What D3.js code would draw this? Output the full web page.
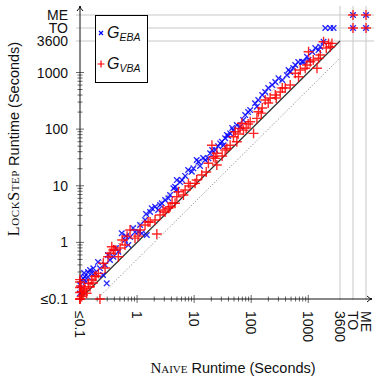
<!DOCTYPE html>
<html><head><meta charset="utf-8">
<script src="https://cdn.jsdelivr.net/npm/d3@7"></script>
<style>body{margin:0;background:#fff}svg{display:block}</style>
</head><body><svg id="c" width="374" height="380"></svg>
<script>
// ---- data (seconds; "TO" = timeout, "ME" = memory exhausted; 0.1 means ≤0.1) ----
const xTicks = [0.1, 1, 10, 100, 1000, 3600, "TO", "ME"];
const xTickLabels = ["≤0.1", "1", "10", "100", "1000", "3600", "TO", "ME"];
const yTicks = [0.1, 1, 10, 100, 1000, 3600, "TO", "ME"];
const yTickLabels = ["≤0.1", "1", "10", "100", "1000", "3600", "TO", "ME"];
const seriesNames = ["EBA", "VBA"];

const ebaNaive = [0.1,0.1,0.107,0.108,0.114,0.122,0.118,0.127,0.138,0.138,0.15,0.16,0.171,0.183,0.207,0.224,0.253,0.275,0.294,0.31,0.336,0.384,0.428,0.47,0.539,0.615,0.641,0.703,0.754,0.85,0.92,1.05,1.13,1.21,1.38,1.44,1.48,1.69,1.81,2.07,2.34,2.53,2.71,3.1,3.54,3.79,4.34,4.64,4.97,4.97,5.68,6.15,6.95,7.85,9.1,9.7,11.1,11.9,12.7,14.4,15.6,17.8,19.1,20.7,23.4,26.4,28.6,30.6,32.7,35,37.5,39.5,42.8,46.4,48.3,56,64,72.4,78.5,88.5,96,117,126,133,156,176,199,233,264,301,350,423,451,483,546,592,668,775,828,949,1012,1175,1327,1517,1625,1855,1990,2430,2780,"TO","TO","ME","ME"];
const ebaLock  = [0.126,0.177,0.135,0.217,0.232,0.248,0.288,0.2,0.245,0.3,0.325,0.284,0.348,0.288,0.45,0.348,0.265,0.398,0.189,0.598,0.488,0.558,0.795,0.684,1.45,1.1,1.29,0.899,1.24,1.79,1.52,1.54,2.03,1.45,2.48,3.17,1.35,3.44,4.0,4.27,3.73,4.57,4.9,5.6,6.0,6.86,9.0,9.6,8.4,12.6,11.6,12.6,14.9,19,17.7,20.3,28.5,26.6,22.3,30.9,28.5,30.5,37.4,42.8,42.8,50,56,60,52,69,79,75.5,84,105,96,118,110,145,177,200,217,286,249,327,400,452,532,601,679,789,737,903,1107,1020,1200,1355,1530,1550,1550,1900,1660,2300,2700,2490,2850,3500,"TO","TO","TO","TO","ME","TO","ME"];

const vbaNaive = [0.1,0.1,0.1,0.1,0.1,0.1,0.104,0.107,0.107,0.113,0.117,0.131,0.122,0.14,0.15,0.16,0.169,0.183,0.191,0.21,0.224,0.256,0.275,0.31,0.336,0.36,0.384,0.411,0.47,0.504,0.546,0.615,0.668,0.754,0.92,1.04,1.13,1.38,1.56,1.69,2.07,2.22,2.53,2.86,3.1,3.54,3.79,4.11,4.64,4.97,5.3,6.5,6.95,7.95,8.5,10.4,11.1,13.6,16.3,17.8,20.5,21.8,23.4,25,25,31,35,37.5,42.8,48.9,52.4,56,59,64,68.7,73.3,81.7,88.5,96,110,126,134,150,156,176,199,215,264,275,323,350,395,483,592,676,724,885,949,1012,1084,1224,1422,1517,1625,1855,2070,2270,2430,2600,"TO","TO","ME","ME"];
const vbaLock  = [0.1,0.1,0.13,0.16,0.2,0.22,0.17,0.11,0.135,0.118,0.144,0.126,0.155,0.189,0.165,0.217,0.192,0.248,0.255,0.284,0.1,0.427,0.352,0.558,0.641,0.839,0.733,0.733,0.558,0.795,1.1,0.899,1.29,1.65,1.19,1.29,1.65,2.03,2.29,2.29,2.48,1.41,3.04,3.73,3.44,4.0,4.27,4.95,4.9,6.4,7.85,6.86,8.4,11.0,9.9,11.0,12.6,15.5,17.5,24.9,52,32.6,30.5,37.4,23.2,33.5,42.8,45.8,52,73.5,90,60,82,103,127,96,105,123,135,84,155,203,192,236,327,289,354,400,354,452,532,532,601,968,843,1107,1186,1355,2330,1550,1660,1186,1780,2040,3500,2700,3270,2850,3270,"TO","ME","TO","ME"];

// ---- layout ----
const svg = d3.select("#c");
const FONT = "'Liberation Sans', Arial, sans-serif";
const SERIF = "'Liberation Serif', 'DejaVu Serif', serif";
const x = d3.scaleLog().domain([0.1, 3600]).range([80, 340]);
const y = d3.scaleLog().domain([0.1, 3600]).range([299, 41]);
const special = d3.scaleOrdinal().domain(["TO", "ME"]).range([13, 26]);
const px = v => typeof v === "string" ? x(3600) + special(v) : x(Math.max(v, 0.1));
const py = v => typeof v === "string" ? y(3600) - special(v) : y(Math.max(v, 0.1));

const X0 = x(0.1), Y0 = y(0.1), XR = 372, YT = 6;

// grid lines for 3600 / TO / ME
const gridVals = [3600, "TO", "ME"];
svg.append("g").selectAll("line.h").data(gridVals).join("line")
  .attr("x1", X0 - 4).attr("x2", 374).attr("y1", d => py(d)).attr("y2", d => py(d))
  .attr("stroke", "#c8c8c8").attr("stroke-width", 1);
svg.append("g").selectAll("line.v").data(gridVals).join("line")
  .attr("y1", YT).attr("y2", Y0 + 1).attr("x1", d => px(d)).attr("x2", d => px(d))
  .attr("stroke", "#c8c8c8").attr("stroke-width", 1);

// diagonals: y = x (solid), y = 2x and y = x/2 (dotted)
const diag = [[0.1, 0.1, 3600, 3600, "none", "#333", 1.3], [0.1, 0.2, 1800, 3600, "1,2", "#555", 0.8], [0.2, 0.1, 3600, 1800, "1,2", "#555", 0.8]];
svg.append("g").selectAll("line").data(diag).join("line")
  .attr("x1", d => x(d[0])).attr("y1", d => y(d[1])).attr("x2", d => x(d[2])).attr("y2", d => y(d[3]))
  .attr("stroke", d => d[5]).attr("stroke-width", d => d[6]).attr("stroke-dasharray", d => d[4]);

// minor/major ticks
const minor = [];
for (let e = -1; e < 3; e++) for (let m = 2; m <= 9; m++) minor.push(m * Math.pow(10, e));
const major = [0.1, 1, 10, 100, 1000];
const tk = svg.append("g").attr("stroke", "#444").attr("stroke-width", 0.8);
tk.selectAll("line.mx").data(minor).join("line").attr("x1", d => x(d)).attr("x2", d => x(d)).attr("y1", Y0 - 2.5).attr("y2", Y0 + 2.5);
tk.selectAll("line.Mx").data(major).join("line").attr("x1", d => x(d)).attr("x2", d => x(d)).attr("y1", Y0 - 4).attr("y2", Y0 + 4);
tk.selectAll("line.my").data(minor).join("line").attr("y1", d => y(d)).attr("y2", d => y(d)).attr("x1", X0 - 2.5).attr("x2", X0 + 2.5);
tk.selectAll("line.My").data(major).join("line").attr("y1", d => y(d)).attr("y2", d => y(d)).attr("x1", X0 - 4).attr("x2", X0 + 4);

// axis lines with arrows
const ax = svg.append("g").attr("stroke", "#111").attr("fill", "none").attr("stroke-width", 1);
ax.append("line").attr("x1", X0 - 1).attr("x2", XR).attr("y1", Y0).attr("y2", Y0);
ax.append("line").attr("x1", X0).attr("x2", X0).attr("y1", Y0 + 1).attr("y2", YT);
ax.append("path").attr("d", `M${XR - 5},${Y0 - 3} Q${XR - 2},${Y0} ${XR},${Y0} Q${XR - 2},${Y0} ${XR - 5},${Y0 + 3}`);
ax.append("path").attr("d", `M${X0 - 3},${YT + 5} Q${X0},${YT + 2} ${X0},${YT} Q${X0},${YT + 2} ${X0 + 3},${YT + 5}`);

// tick labels
svg.append("g").selectAll("text").data(yTicks).join("text")
  .attr("x", 68).attr("y", d => py(d)).attr("dy", "0.36em").attr("text-anchor", "end")
  .attr("font-family", FONT).attr("font-size", 14).attr("fill", "#111")
  .text((d, i) => yTickLabels[i]);
svg.append("g").selectAll("text").data(xTicks).join("text")
  .attr("transform", d => `translate(${px(d)},311) rotate(90)`).attr("dy", "0.36em").attr("text-anchor", "start")
  .attr("font-family", FONT).attr("font-size", 14).attr("fill", "#111")
  .text((d, i) => xTickLabels[i]);

// axis titles
const xt = svg.append("text").attr("x", 233).attr("y", 373).attr("text-anchor", "middle").attr("font-size", 14.5).attr("fill", "#111");
xt.append("tspan").attr("font-family", SERIF).attr("font-variant", "small-caps").attr("font-size", 15).text("Naive");
xt.append("tspan").attr("font-family", FONT).text(" Runtime (Seconds)");
const yt = svg.append("text").attr("transform", "translate(19,139) rotate(-90)").attr("text-anchor", "middle").attr("font-size", 14.5).attr("fill", "#111");
yt.append("tspan").attr("font-family", SERIF).attr("font-variant", "small-caps").attr("font-size", 16).attr("letter-spacing", 0.6).text("LockStep");
yt.append("tspan").attr("font-family", FONT).text(" Runtime (Seconds)");

// points
const eba = ebaNaive.map((v, i) => [v, ebaLock[i]]);
const vba = vbaNaive.map((v, i) => [v, vbaLock[i]]);
svg.append("g").selectAll("path").data(eba).join("path")
  .attr("transform", d => `translate(${px(d[0])},${py(d[1])})`)
  .attr("d", d3.symbol().type(d3.symbolX).size(22)).attr("fill", "none").attr("stroke", "#0000ff").attr("stroke-width", 1.3).attr("stroke-opacity", 0.85);
svg.append("g").selectAll("path").data(vba).join("path")
  .attr("transform", d => `translate(${px(d[0])},${py(d[1])})`)
  .attr("d", d3.symbol().type(d3.symbolPlus).size(34)).attr("fill", "none").attr("stroke", "#ff0000").attr("stroke-width", 1.4).attr("stroke-opacity", 0.85);

// legend
const lg = svg.append("g");
lg.append("rect").attr("x", 95.5).attr("y", 15.5).attr("width", 52).attr("height", 67).attr("fill", "#fff").attr("stroke", "#000").attr("stroke-width", 1);
const lgItems = [{n: seriesNames[0], c: "#0000ff", s: d3.symbolX, sz: 12}, {n: seriesNames[1], c: "#ff0000", s: d3.symbolPlus, sz: 18}];
lgItems.forEach((it, i) => {
  const yy = 33 + i * 31;
  lg.append("path").attr("transform", `translate(101,${yy})`).attr("d", d3.symbol().type(it.s).size(it.sz)).attr("fill", "none").attr("stroke", it.c).attr("stroke-width", 1.2);
  const t = lg.append("text").attr("x", 107).attr("y", yy + 5).attr("font-family", FONT).attr("font-style", "italic").attr("font-size", 16).attr("fill", "#111");
  t.append("tspan").text("G");
  t.append("tspan").attr("font-size", 10.5).attr("dy", 3).text(it.n);
});
</script></body></html>
